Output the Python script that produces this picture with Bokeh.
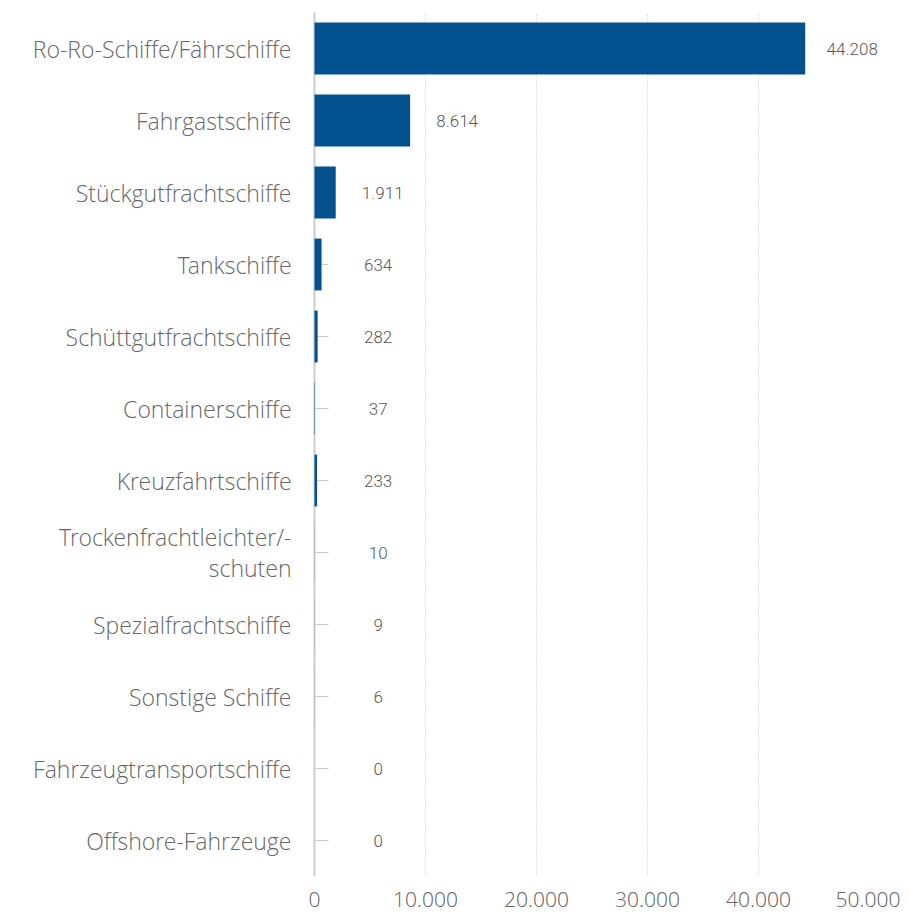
import numpy as np
from bokeh.plotting import figure
from bokeh.models import ColumnDataSource, FixedTicker, Range1d, FactorRange
from bokeh.core.properties import value
from bokeh.embed import file_html
from bokeh.resources import INLINE

categories = [
    "Ro-Ro-Schiffe/Fährschiffe",
    "Fahrgastschiffe",
    "Stückgutfrachtschiffe",
    "Tankschiffe",
    "Schüttgutfrachtschiffe",
    "Containerschiffe",
    "Kreuzfahrtschiffe",
    "Trockenfrachtleichter/-\nschuten",
    "Spezialfrachtschiffe",
    "Sonstige Schiffe",
    "Fahrzeugtransportschiffe",
    "Offshore-Fahrzeuge",
]
values = [44208, 8614, 1911, 634, 282, 37, 233, 10, 9, 6, 0, 0]
value_labels = ["44.208", "8.614", "1.911", "634", "282", "37", "233", "10", "9", "6", "0", "0"]
xtick_values = [0, 10000, 20000, 30000, 40000, 50000]
xtick_labels = ["0", "10.000", "20.000", "30.000", "40.000", "50.000"]

label_x = np.maximum(np.array(values, dtype=float), 1500.0)

source = ColumnDataSource(dict(cat=categories, val=values, lab=value_labels, lx=label_x))

CAT_FONT = "'Open Sans Light', 'Open Sans'"

p = figure(
    width=900, height=915,
    y_range=FactorRange(*list(reversed(categories)), range_padding=0),
    x_range=Range1d(0, 50000),
    output_backend="svg", toolbar_location=None,
    min_border_left=314, min_border_top=12, min_border_right=31,
    min_border_bottom=39,
)
p.outline_line_color = None
p.background_fill_color = "white"
p.border_fill_color = "white"

bars = p.hbar(y="cat", right="val", left=0, height=0.72, source=source,
              fill_color="#03518f", line_color=None)
bars.level = "annotation"

txt = p.text(x="lx", y="cat", text="lab", source=source, x_offset=47,
             text_align="center", text_baseline="middle",
             text_font=value("'Roboto Light', Roboto"), text_font_size="17px",
             text_color="#5a5a5a")
txt.level = "annotation"

# y axis
yax = p.yaxis[0]
yax.axis_line_color = "#cccccc"
yax.axis_line_width = 2
yax.major_tick_in = 14
yax.major_tick_out = 0
yax.major_tick_line_color = "#cccccc"
yax.major_tick_line_width = 1
yax.minor_tick_line_color = None
yax.major_label_standoff = 23
yax.major_label_text_font = CAT_FONT
yax.major_label_text_font_size = "23px"
yax.major_label_text_color = "#666666"
yax.major_label_text_line_height = 0.95

# x axis
xax = p.xaxis[0]
xax.ticker = FixedTicker(ticks=xtick_values)
xax.major_label_overrides = {v: l for v, l in zip(xtick_values, xtick_labels)}
xax.axis_line_color = None
xax.major_tick_line_color = None
xax.minor_tick_line_color = None
xax.major_label_standoff = 9
xax.major_label_text_font = CAT_FONT
xax.major_label_text_font_size = "21px"
xax.major_label_text_color = "#666666"

p.ygrid.grid_line_color = None
p.xgrid.grid_line_color = "#c8c8c8"
p.xgrid.grid_line_dash = "1 2"
p.xgrid.grid_line_width = 1

open("out.html", "w").write(file_html(p, INLINE))
